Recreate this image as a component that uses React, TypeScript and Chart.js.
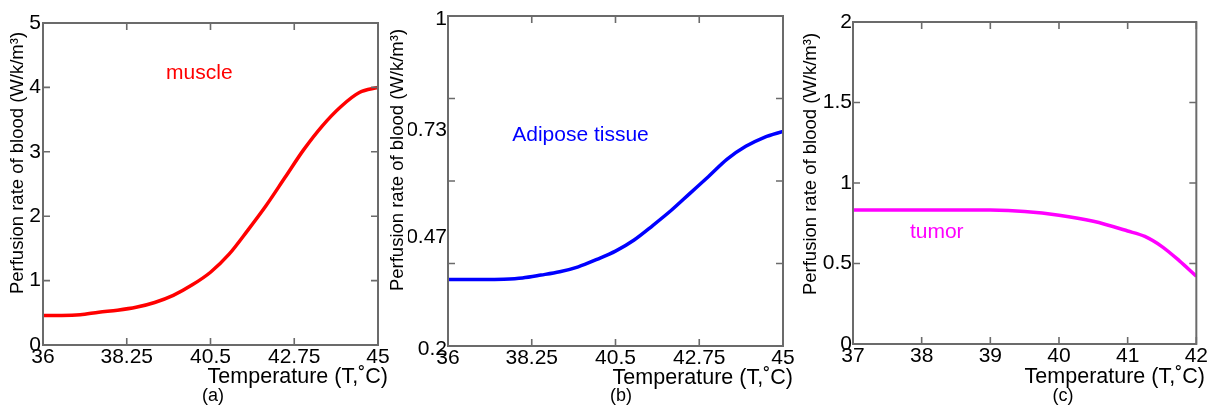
import React, { useEffect, useRef } from "react";
import { Chart, registerables } from "chart.js";

Chart.register(...registerables);

// ---------- data ----------
const muscleT = [36, 36.5, 37, 37.5, 38, 38.5, 39, 39.5, 40, 40.5, 41, 41.5, 42, 42.5, 43, 43.5, 44, 44.5, 45];
const muscleRate = [0.46, 0.46, 0.47, 0.51, 0.54, 0.585, 0.66, 0.77, 0.93, 1.13, 1.41, 1.78, 2.17, 2.6, 3.03, 3.4, 3.7, 3.92, 4.0];

const adiposeT = [36, 36.5, 37, 37.5, 38, 38.5, 39, 39.5, 40, 40.5, 41, 41.5, 42, 42.5, 43, 43.5, 44, 44.5, 45];
const adiposeRate = [0.361, 0.361, 0.361, 0.362, 0.365, 0.372, 0.38, 0.392, 0.41, 0.43, 0.457, 0.492, 0.529, 0.57, 0.611, 0.653, 0.684, 0.706, 0.72];

const tumorT = [37, 37.5, 38, 38.5, 39, 39.5, 40, 40.5, 41, 41.25, 41.5, 41.75, 42];
const tumorRate = [0.833, 0.833, 0.833, 0.833, 0.832, 0.823, 0.8, 0.762, 0.702, 0.668, 0.605, 0.518, 0.421];

const xTicksA = [36, 38.25, 40.5, 42.75, 45];
const yTicksA = [0, 1, 2, 3, 4, 5];
const xTicksB = [36, 38.25, 40.5, 42.75, 45];
const yLabelsB = [0.2, 0.47, 0.73, 1];
const yMarksB = [0.2, 0.4, 0.6, 0.8, 1];
const xTicksC = [37, 38, 39, 40, 41, 42];
const yTicksC = [0, 0.5, 1, 1.5, 2];

const seriesNames = ["muscle", "Adipose tissue", "tumor"];
const panelLabels = ["(a)", "(b)", "(c)"];
const xTitle = "Temperature (T,\u02DAC)";
const yTitle = "Perfusion rate of blood (W/k/m\u00B3)";

// ---------- layout / style ----------
const W = 1208;
const H = 407;
const FONT = "'Liberation Sans', Arial, Helvetica, sans-serif";

type Panel = {
  xs: number[];
  ys: number[];
  color: string;
  name: string;
  label: string;
  xMin: number;
  xMax: number;
  yMin: number;
  yMax: number;
  xTicks: number[];
  yLabels: number[];
  xMarks: number[];
  yMarks: number[];
  area: { left: number; right: number; top: number; bottom: number };
  yTitleX: number;
  yTitleY: number;
  xTitleRight: number;
  xTitleY: number;
  labelX: number;
  labelY: number;
  nameAt: [number, number];
  yLabelOffset: number;
  yPad: number;
};

const panels: Panel[] = [
  {
    xs: muscleT, ys: muscleRate, color: "#ff0000", name: seriesNames[0], label: panelLabels[0],
    xMin: 36, xMax: 45, yMin: 0, yMax: 5,
    xTicks: xTicksA, yLabels: yTicksA, xMarks: xTicksA, yMarks: yTicksA,
    area: { left: 43, right: 378, top: 23, bottom: 345 },
    yTitleX: 18, yTitleY: 163, xTitleRight: 388, xTitleY: 377, labelX: 213, labelY: 396,
    nameAt: [40.2, 4.22], yLabelOffset: 0, yPad: 2,
  },
  {
    xs: adiposeT, ys: adiposeRate, color: "#0000ff", name: seriesNames[1], label: panelLabels[1],
    xMin: 36, xMax: 45, yMin: 0.2, yMax: 1,
    xTicks: xTicksB, yLabels: yLabelsB, xMarks: xTicksB, yMarks: yMarksB,
    area: { left: 448, right: 783, top: 16, bottom: 346 },
    yTitleX: 398, yTitleY: 160, xTitleRight: 793, xTitleY: 378, labelX: 621, labelY: 396,
    nameAt: [39.56, 0.711], yLabelOffset: 3, yPad: 1,
  },
  {
    xs: tumorT, ys: tumorRate, color: "#ff00ff", name: seriesNames[2], label: panelLabels[2],
    xMin: 37, xMax: 42, yMin: 0, yMax: 2,
    xTicks: xTicksC, yLabels: yTicksC, xMarks: xTicksC, yMarks: yTicksC,
    area: { left: 853, right: 1197, top: 22, bottom: 344 },
    yTitleX: 811, yTitleY: 164, xTitleRight: 1205, xTitleY: 377, labelX: 1063, labelY: 396,
    nameAt: [38.22, 0.696], yLabelOffset: 0, yPad: 1,
  },
];

const framePlugin = {
  id: "frame",
  afterDraw(chart: any, _args: any, opts: any) {
    const p: Panel = opts.panel;
    const { ctx, chartArea: ca, scales } = chart;
    const xs = scales.x;
    const ys = scales.y;
    ctx.save();
    // box
    ctx.strokeStyle = "#6b6b6b";
    ctx.lineWidth = 2;
    ctx.strokeRect(ca.left, ca.top, ca.right - ca.left, ca.bottom - ca.top);
    // inward ticks on all sides
    const L = 7;
    ctx.lineWidth = 1.6;
    ctx.beginPath();
    for (const v of p.xMarks) {
      const px = xs.getPixelForValue(v);
      ctx.moveTo(px, ca.bottom);
      ctx.lineTo(px, ca.bottom - L);
      ctx.moveTo(px, ca.top);
      ctx.lineTo(px, ca.top + L);
    }
    for (const v of p.yMarks) {
      const py = ys.getPixelForValue(v);
      ctx.moveTo(ca.left, py);
      ctx.lineTo(ca.left + L, py);
      ctx.moveTo(ca.right, py);
      ctx.lineTo(ca.right - L, py);
    }
    ctx.stroke();

    // series name annotation
    ctx.fillStyle = p.color;
    ctx.font = `21px ${FONT}`;
    ctx.textAlign = "center";
    ctx.textBaseline = "middle";
    ctx.fillText(p.name, xs.getPixelForValue(p.nameAt[0]), ys.getPixelForValue(p.nameAt[1]));

    // axis titles
    ctx.fillStyle = "#000000";
    ctx.font = `21.5px ${FONT}`;
    ctx.textAlign = "right";
    ctx.fillText(xTitle, p.xTitleRight, p.xTitleY);

    ctx.font = `18px ${FONT}`;
    ctx.textAlign = "center";
    ctx.fillText(p.label, p.labelX, p.labelY);

    ctx.save();
    ctx.translate(p.yTitleX, p.yTitleY);
    ctx.rotate(-Math.PI / 2);
    ctx.font = `18.5px ${FONT}`;
    ctx.textAlign = "center";
    ctx.textBaseline = "middle";
    ctx.fillText(yTitle, 0, 0);
    ctx.restore();

    ctx.restore();
  },
};

function PanelChart({ p }: { p: Panel }) {
  const ref = useRef<HTMLCanvasElement | null>(null);
  useEffect(() => {
    if (!ref.current) return;
    const yAxisW = 40;
    const chart = new Chart(ref.current, {
      type: "line",
      data: {
        datasets: [
          {
            label: p.name,
            data: p.xs.map((x, i) => ({ x, y: p.ys[i] })),
            borderColor: p.color,
            backgroundColor: p.color,
            borderWidth: 3.5,
            pointRadius: 0,
            cubicInterpolationMode: "monotone",
            fill: false,
          },
        ],
      },
      options: {
        animation: false,
        responsive: true,
        maintainAspectRatio: false,
        events: [],
        layout: {
          padding: {
            left: p.area.left - yAxisW,
            right: W - p.area.right,
            top: p.area.top,
            bottom: 0,
          },
        },
        plugins: {
          legend: { display: false },
          tooltip: { enabled: false },
          frame: { panel: p },
        } as any,
        scales: {
          x: {
            type: "linear",
            min: p.xMin,
            max: p.xMax,
            grid: { display: false, drawTicks: false },
            border: { display: false },
            afterBuildTicks: (s: any) => {
              s.ticks = p.xTicks.map((v) => ({ value: v }));
            },
            afterFit: (s: any) => {
              s.height = H - p.area.bottom;
            },
            ticks: {
              autoSkip: false,
              maxRotation: 0,
              padding: 0,
              color: "#000000",
              font: { family: FONT, size: 21 },
              callback: (v: any) => String(v),
            },
          },
          y: {
            type: "linear",
            min: p.yMin,
            max: p.yMax,
            grid: { display: false, drawTicks: false },
            border: { display: false },
            afterBuildTicks: (s: any) => {
              s.ticks = p.yLabels.map((v) => ({ value: v }));
            },
            afterFit: (s: any) => {
              s.width = yAxisW;
            },
            ticks: {
              autoSkip: false,
              padding: p.yPad,
              labelOffset: p.yLabelOffset,
              color: "#000000",
              font: { family: FONT, size: 21 },
              callback: (v: any) => String(v),
            },
          },
        },
      },
      plugins: [framePlugin as any],
    });
    return () => chart.destroy();
  }, [p]);
  return (
    <div style={{ position: "absolute", left: 0, top: 0, width: W, height: H }}>
      <canvas ref={ref} />
    </div>
  );
}

export default function App() {
  return (
    <div style={{ position: "absolute", left: 0, top: 0, width: W, height: H, background: "#ffffff", overflow: "hidden" }}>
      {panels.map((p, i) => (
        <PanelChart key={i} p={p} />
      ))}
    </div>
  );
}
